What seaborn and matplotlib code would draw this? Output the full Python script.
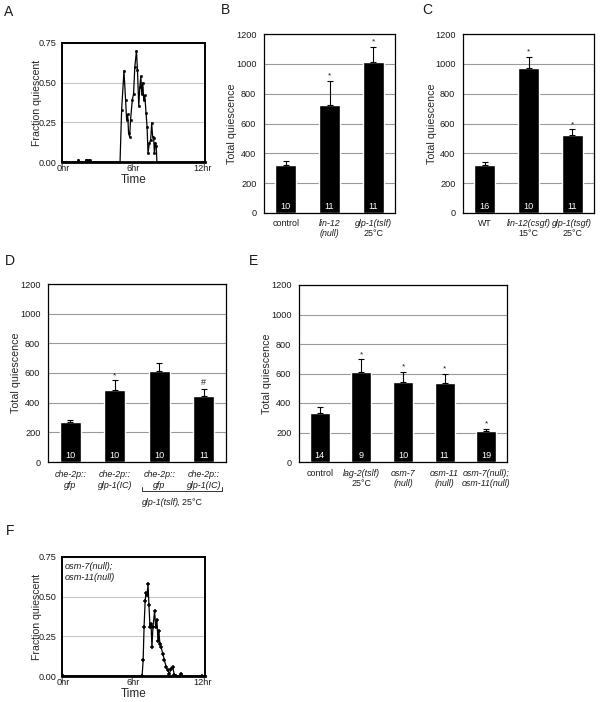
import numpy as np
import pandas as pd
import matplotlib
matplotlib.use("Agg")
import matplotlib.pyplot as plt
import matplotlib.transforms as mtransforms
import seaborn as sns

sns.set_theme(style="white")
plt.rcParams['font.family'] = ['Liberation Sans', 'DejaVu Sans']

# ---------------- data ----------------
A_time = [0.0, 1.25, 1.3, 1.4, 1.9, 1.95, 2.1, 2.15, 2.3, 2.4, 4.9, 5.04, 5.24, 5.38, 5.47, 5.56,
          5.64, 5.73, 5.81, 5.96, 6.07, 6.18, 6.32, 6.41, 6.52, 6.61, 6.7, 6.78, 6.87, 6.95, 7.04,
          7.15, 7.24, 7.32, 7.44, 7.55, 7.64, 7.72, 7.81, 7.87, 7.95, 8.03, 8.09, 12.0]
A_frac = [0, 0, 0.015, 0, 0, 0.015, 0.015, 0, 0.015, 0, 0, 0.33, 0.575, 0.39, 0.265, 0.30,
          0.18, 0.16, 0.265, 0.39, 0.43, 0.6, 0.70, 0.58, 0.35, 0.47, 0.54, 0.43, 0.5, 0.39, 0.42,
          0.31, 0.22, 0.056, 0.12, 0.14, 0.245, 0.16, 0.15, 0.056, 0.12, 0.1, 0, 0]

F_time = [0.0, 6.81, 6.9, 6.98, 7.07, 7.15, 7.24, 7.32, 7.4, 7.49, 7.58, 7.66, 7.75, 7.89, 7.98,
          8.09, 8.18, 8.26, 8.35, 8.46, 8.6, 8.74, 8.89, 9.03, 9.17, 9.32, 9.46, 9.6, 9.75, 10.1,
          10.17, 10.25, 12.0]
F_frac = [0, 0, 0.1, 0.31, 0.47, 0.525, 0.51, 0.577, 0.45, 0.31, 0.33, 0.18, 0.31, 0.41, 0.31,
          0.35, 0.22, 0.285, 0.2, 0.18, 0.14, 0.1, 0.056, 0.035, 0.015, 0.045, 0.056, 0.005, 0, 0,
          0.015, 0, 0]
time_ticks = [0, 6, 12]
time_labels = ["0hr", "6hr", "12hr"]
frac_ticks = [0.0, 0.25, 0.5, 0.75]

B_mean = [320, 725, 1010]
B_err = [30, 160, 105]
B_n = [10, 11, 11]
B_mark = ["", "*", "*"]
B_lab1 = ["control", "lin-12", "glp-1(tslf)"]
B_lab2 = ["", "(null)", "25°C"]
B_it1 = [False, True, True]
B_it2 = [False, True, False]

C_mean = [325, 975, 520]
C_err = [20, 70, 40]
C_n = [16, 10, 11]
C_mark = ["", "*", "*"]
C_lab1 = ["WT", "lin-12(csgf)", "glp-1(tsgf)"]
C_lab2 = ["", "15°C", "25°C"]
C_it1 = [False, True, True]
C_it2 = [False, False, False]

D_mean = [270, 485, 615, 445]
D_err = [15, 65, 55, 45]
D_n = [10, 10, 10, 11]
D_mark = ["", "*", "", "#"]
D_lab1 = ["che-2p::", "che-2p::", "che-2p::", "che-2p::"]
D_lab2 = ["gfp", "glp-1(IC)", "gfp", "glp-1(IC)"]
D_it1 = [True] * 4
D_it2 = [True] * 4

E_mean = [330, 610, 545, 535, 210]
E_err = [45, 85, 65, 60, 15]
E_n = [14, 9, 10, 11, 19]
E_mark = ["", "*", "*", "*", "*"]
E_lab1 = ["control", "lag-2(tslf)", "osm-7", "osm-11", "osm-7(null);"]
E_lab2 = ["", "25°C", "(null)", "(null)", "osm-11(null)"]
E_it1 = [False, True, True, True, True]
E_it2 = [False, False, True, True, True]

q_ticks = [0, 200, 400, 600, 800, 1000, 1200]

# ---------------- layout ----------------
W, H = 601, 702
fig = plt.figure(figsize=(W / 100, H / 100), dpi=100)


def add_ax(l, r, t, b):
    return fig.add_axes([l / W, 1 - b / H, (r - l) / W, (b - t) / H])


TICK = 6.6
TXT = '#1a1a1a'


def line_panel(ax, t, f, marker, ms, mew, lab_x):
    df = pd.DataFrame({"Time": t, "Fraction quiescent": f})
    sns.lineplot(data=df, x="Time", y="Fraction quiescent", ax=ax, color='black',
                 lw=0.9, marker=marker, markersize=ms, markeredgewidth=mew,
                 markeredgecolor='black', estimator=None, sort=False, zorder=3)
    ax.set_xlim(-0.12, 12.25)
    ax.set_ylim(0, 0.75)
    ax.set_yticks(frac_ticks)
    ax.set_yticklabels([f"{v:.2f}" for v in frac_ticks], fontsize=TICK, color=TXT)
    ax.set_xticks(time_ticks)
    ax.set_xticklabels(time_labels, fontsize=TICK, color=TXT)
    ax.tick_params(axis='both', length=0, pad=1.5)
    ax.tick_params(axis='y', pad=4)
    ax.yaxis.grid(True, color='#c8c8c8', lw=0.8)
    ax.set_axisbelow(True)
    ax.set_xlabel("Time", fontsize=8.5, labelpad=0.5)
    ax.set_ylabel("Fraction quiescent", fontsize=7.6)
    ax.yaxis.set_label_coords(lab_x, 0.5)
    for s in ax.spines.values():
        s.set_color('black')
        s.set_linewidth(1.4)
    ax.spines['bottom'].set_linewidth(2.0)


def bar_panel(ax, means, errs, ns, marks, lab1, it1, lab2, it2, off1, off2, lab_x):
    k = len(means)
    df = pd.DataFrame({"cat": list(range(k)), "val": means})
    sns.barplot(data=df, x="cat", y="val", color='black', width=0.48, ax=ax,
                errorbar=None, saturation=1, zorder=2)
    ax.errorbar(list(range(k)), means, yerr=[[0] * k, errs], fmt='none', ecolor='black',
                elinewidth=0.8, capsize=2, capthick=0.8, zorder=3)
    ax.set_xlim(-0.5, k - 0.5)
    ax.set_ylim(0, 1200)
    ax.set_yticks(q_ticks)
    ax.set_yticklabels([str(v) for v in q_ticks], fontsize=TICK, color=TXT)
    ax.tick_params(axis='y', length=2.5, width=0.6, pad=3, color='#555555')
    ax.tick_params(axis='x', length=0, labelbottom=False)
    ax.yaxis.grid(True, color='#9a9a9a', lw=0.8)
    ax.set_axisbelow(True)
    ax.set_xlabel("")
    ax.set_ylabel("Total quiescence", fontsize=7.7)
    ax.yaxis.set_label_coords(lab_x, 0.5)
    for s in ax.spines.values():
        s.set_color('black')
        s.set_linewidth(0.9)
    for i in range(k):
        ax.text(i, 42, str(ns[i]), color='white', ha='center', va='center', fontsize=6.6, zorder=4)
        if marks[i]:
            top = means[i] + errs[i]
            ax.text(i, top + 15 if marks[i] == '#' else top + 10, marks[i], ha='center', va='bottom',
                    fontsize=6 if marks[i] == '*' else 6.5, color=TXT)
        ax.annotate(lab1[i], xy=(i, 0), xycoords=('data', 'axes fraction'),
                    xytext=(0, -off1 * 0.72), textcoords='offset points', ha='center', va='center',
                    fontsize=6.4, style='italic' if it1[i] else 'normal', color=TXT)
        if lab2[i]:
            ax.annotate(lab2[i], xy=(i, 0), xycoords=('data', 'axes fraction'),
                        xytext=(0, -off2 * 0.72), textcoords='offset points', ha='center',
                        va='center', fontsize=6.4, style='italic' if it2[i] else 'normal', color=TXT)


axA = add_ax(62, 205, 43, 162)
line_panel(axA, A_time, A_frac, 's', 1.2, 0.6, -0.14)

axB = add_ax(264, 395, 34, 213)
bar_panel(axB, B_mean, B_err, B_n, B_mark, B_lab1, B_it1, B_lab2, B_it2, 10, 20.5, -0.205)

axC = add_ax(463, 594, 34, 213)
bar_panel(axC, C_mean, C_err, C_n, C_mark, C_lab1, C_it1, C_lab2, C_it2, 10, 20.5, -0.198)

axD = add_ax(48, 226, 284, 462)
bar_panel(axD, D_mean, D_err, D_n, D_mark, D_lab1, D_it1, D_lab2, D_it2, 12.5, 23, -0.152)

axE = add_ax(299, 507, 285, 462)
bar_panel(axE, E_mean, E_err, E_n, E_mark, E_lab1, E_it1, E_lab2, E_it2, 11, 21.5, -0.13)

axF = add_ax(62, 205, 557, 676)
line_panel(axF, F_time, F_frac, '+', 3.2, 1.1, -0.14)
axF.text(0.02, 0.96, "osm-7(null);\nosm-11(null)", transform=axF.transAxes, ha='left', va='top',
         fontsize=6.6, style='italic', color=TXT, linespacing=1.25)

# bracket under panel D bars 3-4
tr = mtransforms.blended_transform_factory(axD.transData, axD.transAxes)
bx0, bx1, by = 1.61, 3.41, -0.163
axD.plot([bx0, bx0, bx1, bx1], [by + 0.02, by, by, by + 0.02], color='#333333', lw=0.7,
         transform=tr, clip_on=False)
cx = 2.44
axD.text(cx, -0.228, "glp-1(tslf)", transform=tr, ha='right', va='center', fontsize=6.4,
         style='italic', color=TXT)
axD.text(cx - 0.04, -0.228, ", 25°C", transform=tr, ha='left', va='center', fontsize=6.4, color=TXT)

# panel letters
for letter, x, y in [("A", 9, 12), ("B", 226, 10), ("C", 427, 10), ("D", 10, 261),
                     ("E", 254, 261), ("F", 10, 531)]:
    fig.text(x / W, 1 - y / H, letter, ha='center', va='center', fontsize=10, color=TXT)

fig.savefig("out.png", dpi=100, facecolor='white')
